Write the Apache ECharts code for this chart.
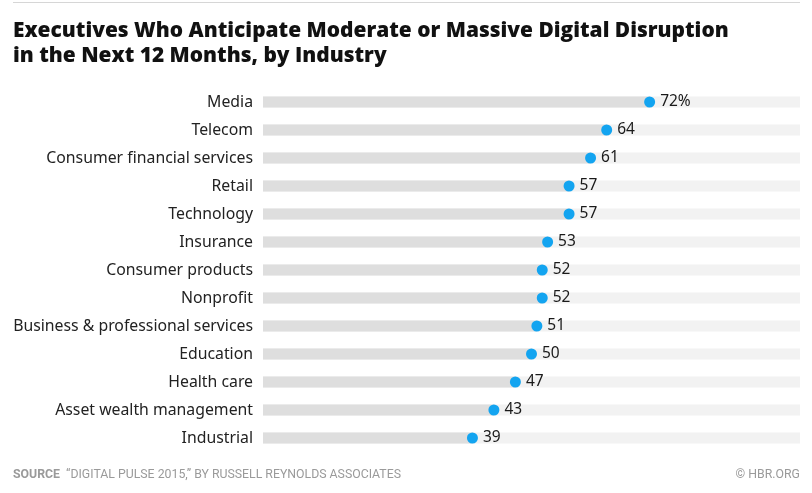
<!DOCTYPE html>
<html>
<head>
<meta charset="utf-8">
<script src="https://cdn.jsdelivr.net/npm/echarts@6/dist/echarts.min.js"></script>
<style>
  html, body { margin: 0; padding: 0; background: #fff; }
  #chart { width: 812px; height: 493px; }
</style>
</head>
<body>
<div id="chart"></div>
<script>
// industries, top to bottom
const industries = [
    'Media', 'Telecom', 'Consumer financial services', 'Retail', 'Technology',
    'Insurance', 'Consumer products', 'Nonprofit', 'Business & professional services',
    'Education', 'Health care', 'Asset wealth management', 'Industrial'
];
// share of executives, %
const shares = [72, 64, 61, 57, 57, 53, 52, 52, 51, 50, 47, 43, 39];

const chart = echarts.init(document.getElementById('chart'));

const option = {
    backgroundColor: '#fff',
    animation: false,
    grid: {left: 263, right: 12, top: 88, bottom: 41},
    xAxis: {
        type: 'value',
        min: 0,
        max: 100,
        show: false
    },
    yAxis: {
        type: 'category',
        data: industries,
        inverse: true,
        axisLine: {show: false},
        axisTick: {show: false},
        axisLabel: {
            color: '#222',
            fontSize: 15.8,
            fontFamily: 'Noto Sans',
            margin: 10
        }
    },
    graphic: [
        // thin rule at the very top
        {
            type: 'rect',
            shape: {x: 13, y: 2, width: 787, height: 1},
            style: {fill: '#d6d6d6'}
        },
        {
            type: 'text',
            left: 13,
            top: 19,
            style: {
                text: 'Executives Who Anticipate Moderate or Massive Digital Disruption\nin the Next 12 Months, by Industry',
                fontSize: 20.9,
                fontWeight: 800,
                fontFamily: 'Open Sans',
                lineHeight: 25,
                fill: '#111'
            }
        },
        {
            type: 'text',
            left: 13,
            top: 469,
            style: {
                text: '{b|SOURCE}  “DIGITAL PULSE 2015,” BY RUSSELL REYNOLDS ASSOCIATES',
                fontSize: 12.3,
                fontFamily: 'Roboto',
                fill: '#9a9a9a',
                rich: {
                    b: {fontSize: 12.3, fontWeight: 'bold', fontFamily: 'Roboto', fill: '#9a9a9a'}
                }
            }
        },
        {
            type: 'text',
            right: 12,
            top: 469,
            style: {
                text: '© HBR.ORG',
                fontSize: 12.3,
                fontFamily: 'Roboto',
                fill: '#9a9a9a'
            }
        }
    ],
    series: [
        {
            type: 'bar',
            data: shares,
            barWidth: 11,
            showBackground: true,
            backgroundStyle: {color: '#f2f2f2'},
            itemStyle: {color: '#dedede'},
            silent: true,
            z: 1
        },
        {
            type: 'scatter',
            data: shares,
            symbol: 'circle',
            symbolSize: 11,
            itemStyle: {color: '#13a4f0', opacity: 1},
            z: 5,
            label: {
                show: true,
                position: 'right',
                distance: 5,
                color: '#1a1a1a',
                fontSize: 15.5,
                fontFamily: 'Noto Sans',
                formatter: function (p) {
                    return p.dataIndex === 0 ? p.value + '%' : String(p.value);
                }
            }
        }
    ]
};

chart.setOption(option);
</script>
</body>
</html>
